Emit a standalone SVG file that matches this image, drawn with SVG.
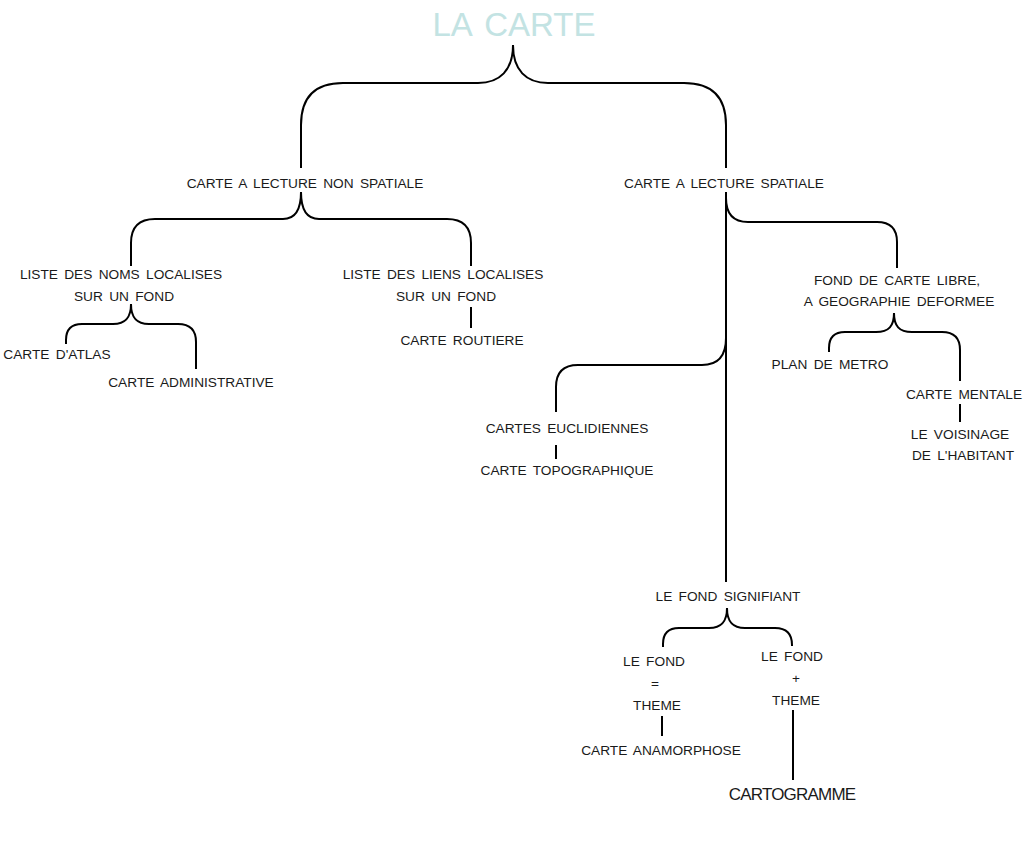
<svg xmlns="http://www.w3.org/2000/svg" width="1024" height="846" viewBox="0 0 1024 846">
<style>
  text { font-family: "Liberation Sans", Arial, sans-serif; font-size: 13.7px; fill: #1a1a1a; text-anchor: middle; word-spacing: 2.5px; }
  .title { font-size: 33px; fill: #c3e3e3; word-spacing: 4px; }
  .big { font-size: 17px; letter-spacing: -0.8px; }
  .c path { fill: none; stroke: #000; stroke-width: 2; stroke-linecap: butt; }
</style>
<rect width="1024" height="846" fill="#fff"/>
<g class="c" id="connectors">
  <path d="M513,45 C513,70 500,83 478,83 H343 Q301,83 301,125 V168 M513,45 C513,70 526,83 548,83 H684 Q726,83 726,125 V168"/>
  <path d="M301,192 C301,208 296,219 283,219 H155 Q131,219 131,243 V266 M301,192 C301,208 306,219 319,219 H447 Q471,219 471,243 V266"/>
  <path d="M131,304 C131,317 126,324 113,324 H82 Q66,324 66,340 V344 M131,304 C131,317 136,324 149,324 H178 Q196,324 196,342 V369"/>
  <path d="M471,307 V328"/>
  <path d="M726,192 V582"/>
  <path d="M726,198 C726,214 733,222 748,222 H877 Q897,222 897,242 V268"/>
  <path d="M726,338 C726,356 718,365 702,365 H578 Q556,365 556,387 V412"/>
  <path d="M556,445 V459"/>
  <path d="M894,313 C894,326 889,332 876,332 H845 Q829,332 829,348 V352 M894,313 C894,326 899,332 912,332 H942 Q960,332 960,350 V381"/>
  <path d="M960,404 V422"/>
  <path d="M727,608 C727,621 722,628 709,628 H679 Q663,628 663,644 V647 M727,608 C727,621 732,628 745,628 H775 Q792,628 792,645 V646"/>
  <path d="M662,716 V736"/>
  <path d="M793,710 V780"/>
</g>
<g id="n-root"><text class="title" x="514" y="36">LA CARTE</text></g>
<g id="n-nonspatiale"><text x="305" y="188">CARTE A LECTURE NON SPATIALE</text></g>
<g id="n-spatiale"><text x="724" y="188">CARTE A LECTURE SPATIALE</text></g>
<g id="n-noms"><text x="121" y="279">LISTE DES NOMS LOCALISES</text><text x="124" y="301">SUR UN FOND</text></g>
<g id="n-liens"><text x="443" y="279">LISTE DES LIENS LOCALISES</text><text x="446" y="301">SUR UN FOND</text></g>
<g id="n-atlas"><text x="57" y="359">CARTE D'ATLAS</text></g>
<g id="n-admin"><text x="191" y="387">CARTE ADMINISTRATIVE</text></g>
<g id="n-routiere"><text x="462" y="345">CARTE ROUTIERE</text></g>
<g id="n-fondlibre"><text x="897" y="285">FOND DE CARTE LIBRE,</text><text x="899" y="306">A GEOGRAPHIE DEFORMEE</text></g>
<g id="n-metro"><text x="830" y="369">PLAN DE METRO</text></g>
<g id="n-mentale"><text x="964" y="399">CARTE MENTALE</text></g>
<g id="n-voisinage"><text x="960" y="439">LE VOISINAGE</text><text x="963" y="460">DE L'HABITANT</text></g>
<g id="n-eucl"><text x="567" y="433">CARTES EUCLIDIENNES</text></g>
<g id="n-topo"><text x="567" y="475">CARTE TOPOGRAPHIQUE</text></g>
<g id="n-signifiant"><text x="728" y="601">LE FOND SIGNIFIANT</text></g>
<g id="n-egal"><text x="654" y="666">LE FOND</text><text x="655" y="688">=</text><text x="657" y="710">THEME</text></g>
<g id="n-plus"><text x="792" y="661">LE FOND</text><text x="796" y="683">+</text><text x="796" y="705">THEME</text></g>
<g id="n-anamorphose"><text x="661" y="755">CARTE ANAMORPHOSE</text></g>
<g id="n-cartogramme"><text class="big" x="792" y="800">CARTOGRAMME</text></g>
</svg>
